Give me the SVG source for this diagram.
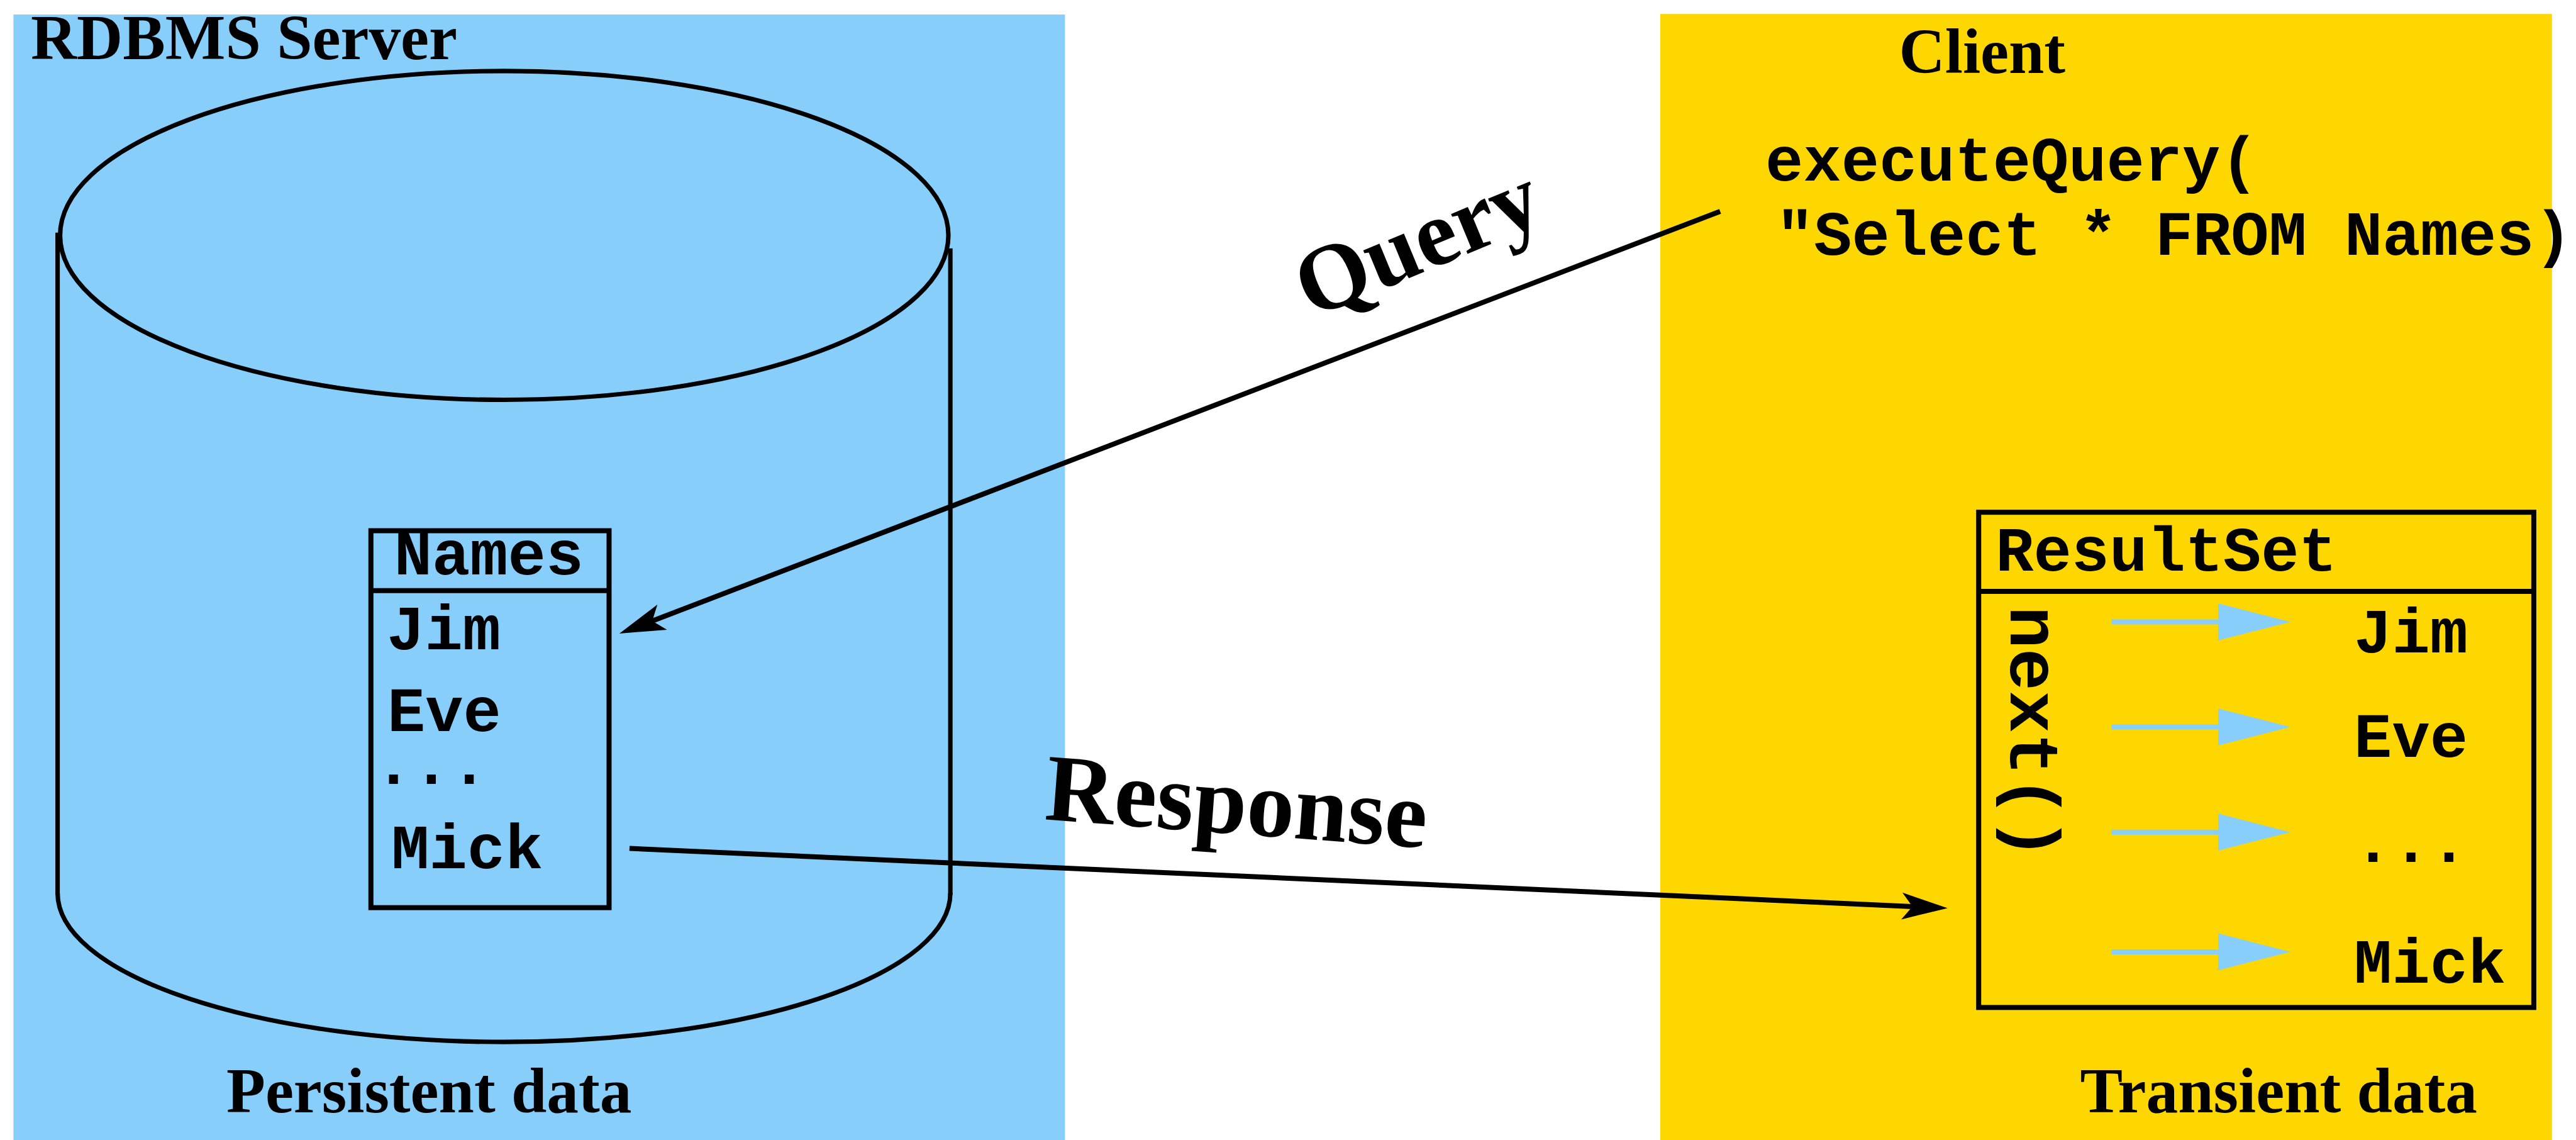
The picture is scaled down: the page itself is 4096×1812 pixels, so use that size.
<svg xmlns="http://www.w3.org/2000/svg" xmlns:xlink="http://www.w3.org/1999/xlink" width="4096" height="1812" viewBox="0 0 4096 1812">
  <style>
    .serif { font-family: "Liberation Serif", "Times New Roman", serif; font-weight: bold; fill: #000; }
    .mono { font-family: "Liberation Mono", "Courier New", monospace; font-weight: bold; fill: #000; }
    .lbl { font-size: 114px; }
    .code { font-size: 113px; }
    .edge { fill: none; stroke: #000; stroke-width: 8; }
    .box { fill: none; stroke: #000; stroke-width: 9; }
    .conn { fill: none; stroke: #000; stroke-width: 9; marker-end: url(#head); }
  </style>
  <defs>
    <marker id="head" markerUnits="userSpaceOnUse" markerWidth="82" markerHeight="48" refX="19" refY="24" orient="auto" overflow="visible">
      <path d="M0,0 L82,24 L0,48 L19,24 Z" fill="#000"/>
    </marker>
    <g id="cursor">
      <line x1="3777" y1="0" x2="3970" y2="0" stroke="#87cefa" stroke-width="9"/>
      <polygon points="3968,-33 4097,0 3968,33" fill="#87cefa"/>
    </g>
  </defs>

  <rect width="4096" height="1812" fill="#fff"/>

  <g transform="scale(0.88889)">
    <!-- server side -->
    <g id="server">
      <rect x="24" y="26" width="1881" height="2020" fill="#87cefa"/>
      <text class="serif lbl" x="55" y="106">RDBMS Server</text>
      <text class="serif lbl" x="405" y="1989">Persistent data</text>
    </g>

    <!-- database cylinder -->
    <g id="database">
      <ellipse class="edge" cx="902" cy="421" rx="794.5" ry="294"/>
      <line class="edge" x1="103" y1="416" x2="103" y2="1600"/>
      <line class="edge" x1="1700" y1="444" x2="1700" y2="1600"/>
      <path class="edge" d="M103,1597 A798,266 0 0 0 1700,1597"/>
    </g>

    <!-- Names table -->
    <g id="names-table">
      <rect class="box" x="663.5" y="949" width="426" height="674"/>
      <line class="box" x1="663.5" y1="1056" x2="1089.5" y2="1056"/>
      <text class="mono code" x="705" y="1027">Names</text>
      <text class="mono code" x="692" y="1161">Jim</text>
      <text class="mono code" x="693" y="1307">Eve</text>
      <text class="mono code" x="670" y="1402">...</text>
      <text class="mono code" x="700" y="1553">Mick</text>
    </g>

    <!-- client side -->
    <g id="client">
      <rect x="2970" y="25" width="1595" height="2020" fill="#ffd700"/>
      <text class="serif lbl" x="3397" y="131">Client</text>
      <text class="mono code" x="3158" y="323">executeQuery(</text>
      <text class="mono code" x="3177" y="456">"Select * FROM Names)</text>
      <text class="serif lbl" x="3721" y="1989">Transient data</text>
    </g>

    <!-- ResultSet cursor -->
    <g id="resultset">
      <rect class="box" x="3539.5" y="916" width="993" height="885.5"/>
      <line class="box" x1="3539.5" y1="1057.5" x2="4532.5" y2="1057.5"/>
      <text class="mono code" x="3570" y="1020">ResultSet</text>
      <text class="mono" font-size="126" transform="translate(3597,1084) rotate(90)">next()</text>
      <use xlink:href="#cursor" transform="translate(0,1112)"/>
      <use xlink:href="#cursor" transform="translate(0,1300)"/>
      <use xlink:href="#cursor" transform="translate(0,1488)"/>
      <use xlink:href="#cursor" transform="translate(0,1702)"/>
      <text class="mono code" x="4211" y="1167">Jim</text>
      <text class="mono code" x="4211" y="1353">Eve</text>
      <text class="mono code" x="4211" y="1541">...</text>
      <text class="mono code" x="4211" y="1757">Mick</text>
    </g>

    <!-- request / response connectors -->
    <g id="connectors">
      <path class="conn" d="M3077,378 L1166.8,1110.4"/>
      <text class="serif" font-size="168" transform="translate(2345,570) rotate(-22.5)">Query</text>
      <path class="conn" d="M1126,1517 L3421,1621"/>
      <text class="serif" font-size="171" transform="translate(1867,1465) rotate(4.3)">Response</text>
    </g>
  </g>
</svg>
